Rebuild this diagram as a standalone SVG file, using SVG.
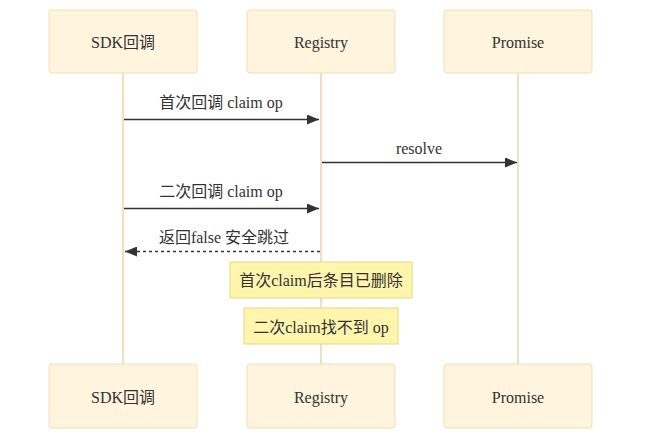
<svg xmlns="http://www.w3.org/2000/svg" width="650" height="445" viewBox="0 0 650 445">
<style>
text{font-family:"Liberation Serif","Noto Sans CJK SC",serif;font-size:16px;fill:#333;text-anchor:middle}
.actor{fill:#fff4dd;stroke:#f2dfb5;stroke-width:1}
.life{stroke:#f0e0c0;stroke-width:2}
.msg{stroke:#333;stroke-width:1.5;fill:none}
.dash{stroke-dasharray:3,3}
.note{fill:#fff5ad;stroke:#e6d97f;stroke-width:1}
</style>
<defs>
<marker id="ah" viewBox="0 0 12 10" refX="12" refY="5" markerWidth="12" markerHeight="10" markerUnits="userSpaceOnUse" orient="auto-start-reverse">
<path d="M0,0 L12,5 L0,10 z" fill="#333"/>
</marker>
</defs>
<g id="lifelines">
<line class="life" x1="123" y1="73" x2="123" y2="364"/>
<line class="life" x1="321" y1="73" x2="321" y2="364"/>
<line class="life" x1="518" y1="73" x2="518" y2="364"/>
</g>
<g id="sdk-top"><rect class="actor" x="49" y="10" width="148" height="63" rx="3"/><text x="123" y="48">SDK回调</text></g>
<g id="registry-top"><rect class="actor" x="247" y="10" width="148" height="63" rx="3"/><text x="321" y="48">Registry</text></g>
<g id="promise-top"><rect class="actor" x="444" y="10" width="148" height="63" rx="3"/><text x="518" y="48">Promise</text></g>
<g id="sdk-bottom"><rect class="actor" x="49" y="364" width="148" height="64" rx="3"/><text x="123" y="403">SDK回调</text></g>
<g id="registry-bottom"><rect class="actor" x="247" y="364" width="148" height="64" rx="3"/><text x="321" y="403">Registry</text></g>
<g id="promise-bottom"><rect class="actor" x="444" y="364" width="148" height="64" rx="3"/><text x="518" y="403">Promise</text></g>
<g id="connectors">
<line class="msg" x1="124" y1="119.5" x2="319" y2="119.5" marker-end="url(#ah)"/>
<text x="221" y="108">首次回调 claim op</text>
<line class="msg" x1="322" y1="162.5" x2="517" y2="162.5" marker-end="url(#ah)"/>
<text x="419" y="154">resolve</text>
<line class="msg" x1="124" y1="208.5" x2="319" y2="208.5" marker-end="url(#ah)"/>
<text x="221" y="197">二次回调 claim op</text>
<line class="msg dash" x1="320" y1="251.5" x2="125" y2="251.5" marker-end="url(#ah)"/>
<text x="224" y="243">返回false 安全跳过</text>
</g>
<g id="note1"><rect class="note" x="230" y="262" width="182" height="36"/><text x="321" y="286">首次claim后条目已删除</text></g>
<g id="note2"><rect class="note" x="244" y="308" width="154" height="36"/><text x="321" y="333">二次claim找不到 op</text></g>
</svg>
